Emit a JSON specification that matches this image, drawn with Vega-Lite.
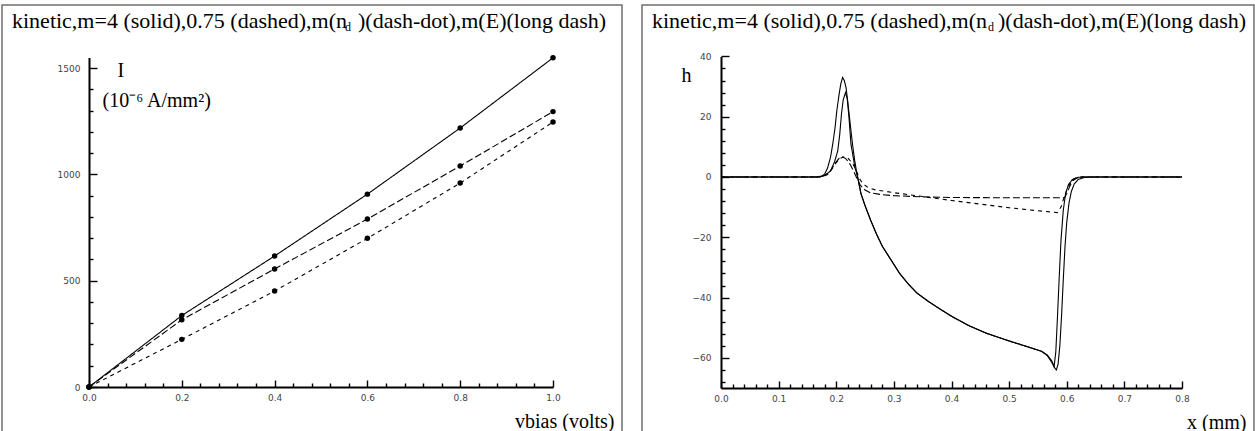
{
  "$schema": "https://vega.github.io/schema/vega-lite/v6.json",
  "autosize": {"type": "pad"},
  "padding": {"left": 1, "top": 4, "right": 0, "bottom": 0},
  "background": "white",
  "spacing": 20,
  "bounds": "flush",
  "config": {
    "view": {"stroke": "#707070", "strokeWidth": 1.5},
    "axis": {
      "grid": false,
      "domainColor": "black",
      "domainWidth": 2,
      "tickColor": "black",
      "tickWidth": 1.4,
      "labelFont": "DejaVu Sans",
      "labelFontSize": 9,
      "labelColor": "#444",
      "titleFont": "Liberation Serif",
      "titleFontSize": 20,
      "titleFontWeight": "normal",
      "titleColor": "black"
    },
    "title": {
      "anchor": "start",
      "frame": "group",
      "offset": -29,
      "dx": 10,
      "baseline": "alphabetic",
      "font": "Liberation Serif",
      "fontSize": 22,
      "fontWeight": "normal",
      "color": "black",
      "subtitleFont": "Liberation Serif",
      "subtitleFontSize": 12,
      "subtitleColor": "black",
      "subtitlePadding": -11
    }
  },
  "hconcat": [
    {
      "width": 620,
      "height": 440,
      "title": {
        "text": "kinetic,m=4 (solid),0.75 (dashed),m(n\u00a0\u00a0)(dash-dot),m(E)(long dash)",
        "subtitle": "\u200b\u00a0\u00a0\u00a0\u00a0\u00a0\u00a0\u00a0\u00a0\u00a0\u00a0\u00a0\u00a0\u00a0\u00a0\u00a0\u00a0\u00a0\u00a0\u00a0\u00a0\u00a0\u00a0\u00a0\u00a0\u00a0\u00a0\u00a0\u00a0\u00a0\u00a0\u00a0\u00a0\u00a0\u00a0\u00a0\u00a0\u00a0\u00a0\u00a0\u00a0\u00a0\u00a0\u00a0\u00a0\u00a0\u00a0\u00a0\u00a0\u00a0\u00a0\u00a0\u00a0\u00a0\u00a0\u00a0\u00a0\u00a0\u00a0\u00a0\u00a0\u00a0\u00a0\u00a0\u00a0\u00a0\u00a0\u00a0\u00a0\u00a0\u00a0\u00a0\u00a0\u00a0\u00a0\u00a0\u00a0\u00a0\u00a0\u00a0\u00a0\u00a0\u00a0\u00a0\u00a0\u00a0\u00a0\u00a0\u00a0\u00a0\u00a0\u00a0\u00a0\u00a0\u00a0\u00a0\u00a0\u00a0\u00a0\u00a0\u00a0\u00a0\u00a0\u00a0\u00a0\u00a0\u00a0\u00a0\u00a0\u00a0\u00a0\u00a0d"
      },
      "data": {
        "values": [
          {"v": 0.0, "I": 0, "s": "m=4"},
          {"v": 0.2, "I": 336, "s": "m=4"},
          {"v": 0.4, "I": 616, "s": "m=4"},
          {"v": 0.6, "I": 907, "s": "m=4"},
          {"v": 0.8, "I": 1218, "s": "m=4"},
          {"v": 1.0, "I": 1548, "s": "m=4"},
          {"v": 0.0, "I": 0, "s": "m(E)"},
          {"v": 0.2, "I": 316, "s": "m(E)"},
          {"v": 0.4, "I": 555, "s": "m(E)"},
          {"v": 0.6, "I": 790, "s": "m(E)"},
          {"v": 0.8, "I": 1039, "s": "m(E)"},
          {"v": 1.0, "I": 1295, "s": "m(E)"},
          {"v": 0.0, "I": 0, "s": "0.75"},
          {"v": 0.2, "I": 224, "s": "0.75"},
          {"v": 0.4, "I": 451, "s": "0.75"},
          {"v": 0.6, "I": 699, "s": "0.75"},
          {"v": 0.8, "I": 959, "s": "0.75"},
          {"v": 1.0, "I": 1246, "s": "0.75"}
        ]
      },
      "encoding": {
        "x": {
          "field": "v",
          "type": "quantitative",
          "scale": {"domain": [0, 1], "range": [87, 551], "nice": false, "zero": false},
          "axis": {
            "offset": -58,
            "values": [0, 0.04, 0.08, 0.12, 0.16, 0.2, 0.24, 0.28, 0.32, 0.36, 0.4, 0.44, 0.48, 0.52, 0.56, 0.6, 0.64, 0.68, 0.72, 0.76, 0.8, 0.84, 0.88, 0.92, 0.96, 1.0],
            "tickSize": {"condition": {"test": "abs(datum.value*5 - round(datum.value*5)) < 0.001", "value": -7}, "value": -4},
            "labelExpr": "abs(datum.value*5 - round(datum.value*5)) < 0.001 ? format(datum.value, '.1f') : ''",
            "labelPadding": 13,
            "labelFlush": false,
            "labelOverlap": false,
            "title": "vbias (volts)",
            "titleX": 612,
            "titleY": 40,
            "titleAlign": "right",
            "titleAnchor": null,
            "titleBaseline": "alphabetic"
          }
        },
        "y": {
          "field": "I",
          "type": "quantitative",
          "scale": {"domain": [0, 1550], "range": [382, 52.4], "nice": false, "zero": false},
          "axis": {
            "offset": -87,
            "values": [0, 100, 200, 300, 400, 500, 600, 700, 800, 900, 1000, 1100, 1200, 1300, 1400, 1500],
            "tickSize": {"condition": {"test": "datum.value % 500 == 0", "value": -8}, "value": -4},
            "labelExpr": "datum.value % 500 == 0 ? datum.label : ''",
            "format": "d",
            "labelPadding": 17,
            "labelFlush": false,
            "labelOverlap": false,
            "title": ["\u200b\u00a0\u00a0\u00a0I", "(10\u207b\u2076 A/mm\u00b2)"],
            "titleAngle": 0,
            "titleAlign": "left",
            "titleBaseline": "alphabetic",
            "titleFontSize": 20,
            "titleLineHeight": 30,
            "titleX": 13,
            "titleY": 71
          }
        }
      },
      "layer": [
        {
          "mark": {"type": "line", "color": "black", "strokeWidth": 1.1},
          "encoding": {
            "strokeDash": {
              "field": "s",
              "type": "nominal",
              "scale": {"domain": ["m=4", "m(E)", "0.75"], "range": [[1, 0], [7, 3], [4, 4]]},
              "legend": null
            }
          }
        },
        {
          "mark": {"type": "point", "filled": true, "color": "black", "size": 30, "opacity": 1}
        }
      ]
    },
    {
      "width": 612,
      "height": 440,
      "title": {
        "text": "kinetic,m=4 (solid),0.75 (dashed),m(n\u00a0\u00a0)(dash-dot),m(E)(long dash)",
        "subtitle": "\u200b\u00a0\u00a0\u00a0\u00a0\u00a0\u00a0\u00a0\u00a0\u00a0\u00a0\u00a0\u00a0\u00a0\u00a0\u00a0\u00a0\u00a0\u00a0\u00a0\u00a0\u00a0\u00a0\u00a0\u00a0\u00a0\u00a0\u00a0\u00a0\u00a0\u00a0\u00a0\u00a0\u00a0\u00a0\u00a0\u00a0\u00a0\u00a0\u00a0\u00a0\u00a0\u00a0\u00a0\u00a0\u00a0\u00a0\u00a0\u00a0\u00a0\u00a0\u00a0\u00a0\u00a0\u00a0\u00a0\u00a0\u00a0\u00a0\u00a0\u00a0\u00a0\u00a0\u00a0\u00a0\u00a0\u00a0\u00a0\u00a0\u00a0\u00a0\u00a0\u00a0\u00a0\u00a0\u00a0\u00a0\u00a0\u00a0\u00a0\u00a0\u00a0\u00a0\u00a0\u00a0\u00a0\u00a0\u00a0\u00a0\u00a0\u00a0\u00a0\u00a0\u00a0\u00a0\u00a0\u00a0\u00a0\u00a0\u00a0\u00a0\u00a0\u00a0\u00a0\u00a0\u00a0\u00a0\u00a0\u00a0\u00a0\u00a0\u00a0\u00a0d"
      },
      "data": {
        "values": [
          {"x": 0.0, "h": 0, "s": "m=4"}, {"x": 0.05, "h": 0, "s": "m=4"}, {"x": 0.1, "h": 0, "s": "m=4"}, {"x": 0.15, "h": 0, "s": "m=4"},
          {"x": 0.165, "h": 0, "s": "m=4"}, {"x": 0.175, "h": 0.3, "s": "m=4"}, {"x": 0.18, "h": 1, "s": "m=4"}, {"x": 0.185, "h": 3, "s": "m=4"},
          {"x": 0.19, "h": 6.5, "s": "m=4"}, {"x": 0.194, "h": 11, "s": "m=4"}, {"x": 0.198, "h": 16.5, "s": "m=4"}, {"x": 0.201, "h": 22, "s": "m=4"},
          {"x": 0.205, "h": 27.5, "s": "m=4"}, {"x": 0.208, "h": 31, "s": "m=4"}, {"x": 0.211, "h": 33, "s": "m=4"}, {"x": 0.214, "h": 32, "s": "m=4"},
          {"x": 0.217, "h": 29.6, "s": "m=4"}, {"x": 0.22, "h": 25, "s": "m=4"}, {"x": 0.223, "h": 19.7, "s": "m=4"}, {"x": 0.226, "h": 14.5, "s": "m=4"},
          {"x": 0.229, "h": 9.7, "s": "m=4"}, {"x": 0.232, "h": 5.5, "s": "m=4"}, {"x": 0.236, "h": 0.9, "s": "m=4"}, {"x": 0.243, "h": -5.7, "s": "m=4"},
          {"x": 0.25, "h": -9.5, "s": "m=4"}, {"x": 0.26, "h": -14.5, "s": "m=4"}, {"x": 0.27, "h": -19, "s": "m=4"}, {"x": 0.28, "h": -23, "s": "m=4"},
          {"x": 0.295, "h": -27.5, "s": "m=4"}, {"x": 0.31, "h": -32, "s": "m=4"}, {"x": 0.325, "h": -35.5, "s": "m=4"}, {"x": 0.34, "h": -38.5, "s": "m=4"},
          {"x": 0.36, "h": -41.3, "s": "m=4"}, {"x": 0.38, "h": -43.8, "s": "m=4"}, {"x": 0.4, "h": -46.2, "s": "m=4"}, {"x": 0.43, "h": -49.3, "s": "m=4"},
          {"x": 0.46, "h": -51.8, "s": "m=4"}, {"x": 0.5, "h": -54.4, "s": "m=4"}, {"x": 0.53, "h": -56.2, "s": "m=4"}, {"x": 0.556, "h": -57.8, "s": "m=4"},
          {"x": 0.566, "h": -59, "s": "m=4"}, {"x": 0.574, "h": -61, "s": "m=4"}, {"x": 0.579, "h": -63.3, "s": "m=4"}, {"x": 0.582, "h": -64, "s": "m=4"},
          {"x": 0.585, "h": -62, "s": "m=4"}, {"x": 0.588, "h": -56, "s": "m=4"}, {"x": 0.591, "h": -46, "s": "m=4"}, {"x": 0.594, "h": -34, "s": "m=4"},
          {"x": 0.597, "h": -23, "s": "m=4"}, {"x": 0.6, "h": -15, "s": "m=4"}, {"x": 0.604, "h": -8.5, "s": "m=4"}, {"x": 0.608, "h": -4.8, "s": "m=4"},
          {"x": 0.613, "h": -2.3, "s": "m=4"}, {"x": 0.62, "h": -0.8, "s": "m=4"}, {"x": 0.63, "h": -0.2, "s": "m=4"}, {"x": 0.64, "h": 0, "s": "m=4"},
          {"x": 0.7, "h": 0, "s": "m=4"}, {"x": 0.8, "h": 0, "s": "m=4"},

          {"x": 0.0, "h": 0, "s": "m(nd)"}, {"x": 0.1, "h": 0, "s": "m(nd)"}, {"x": 0.17, "h": 0, "s": "m(nd)"}, {"x": 0.18, "h": 0.5, "s": "m(nd)"},
          {"x": 0.19, "h": 2, "s": "m(nd)"}, {"x": 0.197, "h": 5, "s": "m(nd)"}, {"x": 0.2025, "h": 8.6, "s": "m(nd)"}, {"x": 0.206, "h": 14, "s": "m(nd)"},
          {"x": 0.209, "h": 20.8, "s": "m(nd)"}, {"x": 0.212, "h": 25.5, "s": "m(nd)"}, {"x": 0.216, "h": 28, "s": "m(nd)"}, {"x": 0.219, "h": 26, "s": "m(nd)"},
          {"x": 0.222, "h": 20, "s": "m(nd)"}, {"x": 0.2256, "h": 10.8, "s": "m(nd)"}, {"x": 0.2325, "h": 3.1, "s": "m(nd)"}, {"x": 0.237, "h": 0.2, "s": "m(nd)"},
          {"x": 0.243, "h": -5.5, "s": "m(nd)"}, {"x": 0.25, "h": -9.5, "s": "m(nd)"}, {"x": 0.26, "h": -14.5, "s": "m(nd)"}, {"x": 0.27, "h": -19, "s": "m(nd)"},
          {"x": 0.28, "h": -23, "s": "m(nd)"}, {"x": 0.295, "h": -27.5, "s": "m(nd)"}, {"x": 0.31, "h": -32, "s": "m(nd)"}, {"x": 0.325, "h": -35.5, "s": "m(nd)"},
          {"x": 0.34, "h": -38.5, "s": "m(nd)"}, {"x": 0.36, "h": -41.3, "s": "m(nd)"}, {"x": 0.38, "h": -43.8, "s": "m(nd)"}, {"x": 0.4, "h": -46.2, "s": "m(nd)"},
          {"x": 0.43, "h": -49.3, "s": "m(nd)"}, {"x": 0.46, "h": -51.8, "s": "m(nd)"}, {"x": 0.5, "h": -54.4, "s": "m(nd)"}, {"x": 0.53, "h": -56.2, "s": "m(nd)"},
          {"x": 0.556, "h": -57.8, "s": "m(nd)"}, {"x": 0.566, "h": -59.2, "s": "m(nd)"}, {"x": 0.574, "h": -61.5, "s": "m(nd)"}, {"x": 0.578, "h": -63, "s": "m(nd)"},
          {"x": 0.581, "h": -58, "s": "m(nd)"}, {"x": 0.584, "h": -46, "s": "m(nd)"}, {"x": 0.587, "h": -33, "s": "m(nd)"}, {"x": 0.59, "h": -21, "s": "m(nd)"},
          {"x": 0.594, "h": -11, "s": "m(nd)"}, {"x": 0.598, "h": -5.5, "s": "m(nd)"}, {"x": 0.603, "h": -2.5, "s": "m(nd)"}, {"x": 0.61, "h": -0.8, "s": "m(nd)"},
          {"x": 0.62, "h": -0.1, "s": "m(nd)"}, {"x": 0.63, "h": 0, "s": "m(nd)"}, {"x": 0.8, "h": 0, "s": "m(nd)"},

          {"x": 0.0, "h": 0, "s": "0.75"}, {"x": 0.1, "h": 0, "s": "0.75"}, {"x": 0.175, "h": 0, "s": "0.75"}, {"x": 0.185, "h": 0.8, "s": "0.75"},
          {"x": 0.192, "h": 2.5, "s": "0.75"}, {"x": 0.2, "h": 4.8, "s": "0.75"}, {"x": 0.207, "h": 6.2, "s": "0.75"}, {"x": 0.214, "h": 6.7, "s": "0.75"},
          {"x": 0.22, "h": 6.3, "s": "0.75"}, {"x": 0.226, "h": 5, "s": "0.75"}, {"x": 0.231, "h": 3.6, "s": "0.75"}, {"x": 0.236, "h": 1.5, "s": "0.75"},
          {"x": 0.24, "h": -0.5, "s": "0.75"}, {"x": 0.246, "h": -2.2, "s": "0.75"}, {"x": 0.255, "h": -3.5, "s": "0.75"}, {"x": 0.27, "h": -4.4, "s": "0.75"},
          {"x": 0.283, "h": -4.7, "s": "0.75"}, {"x": 0.3, "h": -5.2, "s": "0.75"}, {"x": 0.35, "h": -6.5, "s": "0.75"}, {"x": 0.4, "h": -7.8, "s": "0.75"},
          {"x": 0.45, "h": -9, "s": "0.75"}, {"x": 0.5, "h": -10.2, "s": "0.75"}, {"x": 0.55, "h": -11.2, "s": "0.75"}, {"x": 0.584, "h": -11.8, "s": "0.75"},
          {"x": 0.59, "h": -10, "s": "0.75"}, {"x": 0.596, "h": -6.3, "s": "0.75"}, {"x": 0.602, "h": -3.5, "s": "0.75"}, {"x": 0.607, "h": -1.9, "s": "0.75"},
          {"x": 0.613, "h": -0.6, "s": "0.75"}, {"x": 0.62, "h": 0, "s": "0.75"}, {"x": 0.8, "h": 0, "s": "0.75"},

          {"x": 0.0, "h": 0, "s": "m(E)"}, {"x": 0.1, "h": 0, "s": "m(E)"}, {"x": 0.17, "h": 0, "s": "m(E)"}, {"x": 0.18, "h": 0.5, "s": "m(E)"},
          {"x": 0.19, "h": 2, "s": "m(E)"}, {"x": 0.198, "h": 4.5, "s": "m(E)"}, {"x": 0.205, "h": 6.2, "s": "m(E)"}, {"x": 0.211, "h": 6.7, "s": "m(E)"},
          {"x": 0.217, "h": 6, "s": "m(E)"}, {"x": 0.224, "h": 4.2, "s": "m(E)"}, {"x": 0.23, "h": 2, "s": "m(E)"}, {"x": 0.236, "h": -0.5, "s": "m(E)"},
          {"x": 0.242, "h": -2.8, "s": "m(E)"}, {"x": 0.25, "h": -4.3, "s": "m(E)"}, {"x": 0.26, "h": -5.3, "s": "m(E)"}, {"x": 0.28, "h": -5.9, "s": "m(E)"},
          {"x": 0.3, "h": -6.2, "s": "m(E)"}, {"x": 0.35, "h": -6.6, "s": "m(E)"}, {"x": 0.4, "h": -6.8, "s": "m(E)"}, {"x": 0.5, "h": -6.9, "s": "m(E)"},
          {"x": 0.596, "h": -6.9, "s": "m(E)"}, {"x": 0.6, "h": -5.5, "s": "m(E)"}, {"x": 0.605, "h": -3.2, "s": "m(E)"}, {"x": 0.61, "h": -1.3, "s": "m(E)"},
          {"x": 0.617, "h": -0.4, "s": "m(E)"}, {"x": 0.625, "h": 0, "s": "m(E)"}, {"x": 0.8, "h": 0, "s": "m(E)"}
        ]
      },
      "mark": {"type": "line", "color": "black", "strokeWidth": 1.1},
      "encoding": {
        "x": {
          "field": "x",
          "type": "quantitative",
          "scale": {"domain": [0, 0.8], "range": [79, 540], "nice": false, "zero": false},
          "axis": {
            "offset": -57,
            "values": [0, 0.02, 0.04, 0.06, 0.08, 0.1, 0.12, 0.14, 0.16, 0.18, 0.2, 0.22, 0.24, 0.26, 0.28, 0.3, 0.32, 0.34, 0.36, 0.38, 0.4, 0.42, 0.44, 0.46, 0.48, 0.5, 0.52, 0.54, 0.56, 0.58, 0.6, 0.62, 0.64, 0.66, 0.68, 0.7, 0.72, 0.74, 0.76, 0.78, 0.8],
            "tickSize": {"condition": {"test": "abs(datum.value*10 - round(datum.value*10)) < 0.001", "value": -7}, "value": -4},
            "labelExpr": "abs(datum.value*10 - round(datum.value*10)) < 0.001 ? format(datum.value, '.1f') : ''",
            "labelPadding": 13,
            "labelFlush": false,
            "labelOverlap": false,
            "title": "x (mm)",
            "titleX": 604,
            "titleY": 40,
            "titleAlign": "right",
            "titleAnchor": null,
            "titleBaseline": "alphabetic"
          }
        },
        "y": {
          "field": "h",
          "type": "quantitative",
          "scale": {"domain": [-70, 40], "range": [383, 51.4], "nice": false, "zero": false},
          "axis": {
            "offset": -79,
            "values": [-68, -64, -60, -56, -52, -48, -44, -40, -36, -32, -28, -24, -20, -16, -12, -8, -4, 0, 4, 8, 12, 16, 20, 24, 28, 32, 36, 40],
            "tickSize": {"condition": {"test": "datum.value % 20 == 0", "value": -8}, "value": -4},
            "labelExpr": "datum.value % 20 == 0 ? datum.label : ''",
            "labelPadding": 18,
            "labelFlush": false,
            "labelOverlap": false,
            "title": "h",
            "titleAngle": 0,
            "titleAlign": "center",
            "titleBaseline": "middle",
            "titleX": -35,
            "titleY": 70
          }
        },
        "strokeDash": {
          "field": "s",
          "type": "nominal",
          "scale": {"domain": ["m=4", "0.75", "m(nd)", "m(E)"], "range": [[1, 0], [5, 4], [5, 3, 1, 3], [9, 3]]},
          "legend": null
        }
      }
    }
  ]
}
